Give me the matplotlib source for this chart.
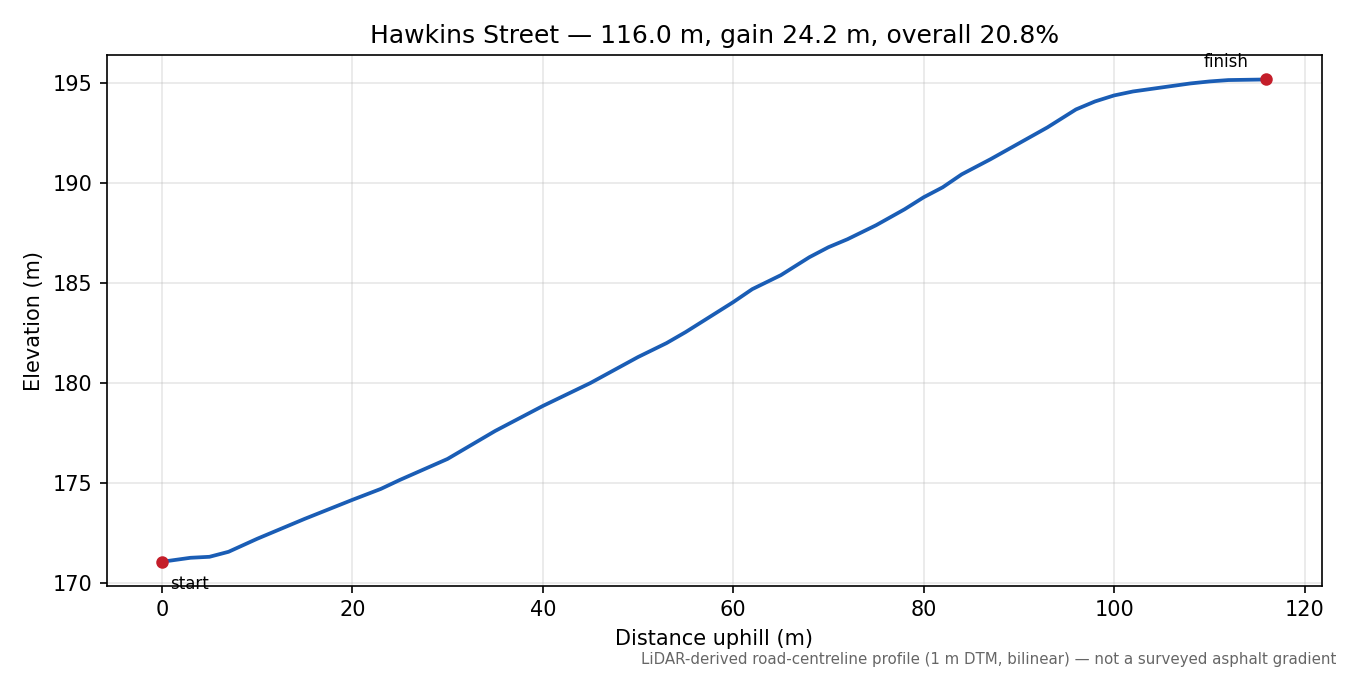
import matplotlib
matplotlib.use("Agg")
import matplotlib.pyplot as plt

# distance along the street (m) and elevation (m)
dist = [0, 3, 5, 7, 10, 15, 20, 23, 25, 30, 35, 40, 45, 50, 53, 55, 60, 62, 65, 68,
        70, 72, 75, 78, 80, 82, 84, 87, 90, 93, 96, 98, 100, 102, 105, 108, 110, 112, 116]
elev = [171.05, 171.25, 171.3, 171.55, 172.2, 173.2, 174.15, 174.7, 175.15, 176.2, 177.6,
        178.85, 180.0, 181.3, 182.0, 182.55, 184.05, 184.7, 185.4, 186.3, 186.8, 187.2,
        187.9, 188.7, 189.3, 189.8, 190.45, 191.2, 192.0, 192.8, 193.7, 194.1, 194.4,
        194.6, 194.8, 195.0, 195.1, 195.17, 195.2]

fig, ax = plt.subplots(figsize=(9, 4.5), dpi=150)
ax.plot(dist, elev, color="#1a5db5", lw=1.8)
ax.plot([dist[0], dist[-1]], [elev[0], elev[-1]], "o", color="#c41e2a", ms=5)
ax.annotate("start", (dist[0], elev[0]), xytext=(4, -13), textcoords="offset points", fontsize=8)
ax.annotate("finish", (dist[-1], elev[-1]), xytext=(-30, 6), textcoords="offset points", fontsize=8)
ax.grid(True, alpha=0.3)
ax.set_xlabel("Distance uphill (m)")
ax.set_ylabel("Elevation (m)")
ax.set_title("Hawkins Street — 116.0 m, gain 24.2 m, overall 20.8%", fontsize=12)
fig.subplots_adjust(left=0.079, right=0.979, top=0.918, bottom=0.132)
fig.text(0.99, 0.012, "LiDAR-derived road-centreline profile (1 m DTM, bilinear) — not a surveyed asphalt gradient",
         ha="right", va="bottom", fontsize=7.2, color="#666666")
fig.savefig("out.png")
